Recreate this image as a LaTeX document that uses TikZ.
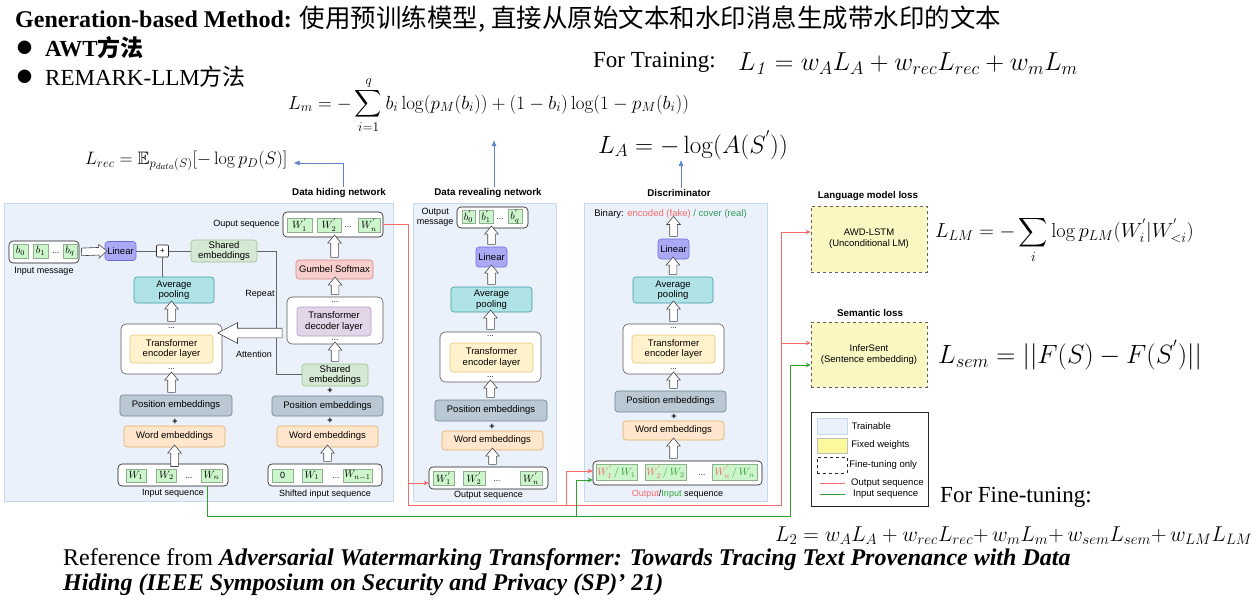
\RequirePackage{fix-cm}
\documentclass[tikz,border=0pt]{standalone}
\usepackage{amssymb}
\usepackage[no-math]{fontspec}
\setmainfont{Liberation Serif}
\setsansfont{Liberation Sans}
\newfontfamily\cjk{Noto Sans CJK SC}
\usetikzlibrary{shapes.arrows,arrows.meta,calc}

\definecolor{panelfill}{HTML}{EAF1FB}
\definecolor{paneldraw}{HTML}{C6D7EE}
\definecolor{linfill}{HTML}{A9A9F5}
\definecolor{lindraw}{HTML}{6E6ED8}
\definecolor{poolfill}{HTML}{B0E3E6}
\definecolor{pooldraw}{HTML}{3E9CA3}
\definecolor{shfill}{HTML}{D5E8D4}
\definecolor{shdraw}{HTML}{9CC38F}
\definecolor{encfill}{HTML}{FFF2CC}
\definecolor{encdraw}{HTML}{E3C778}
\definecolor{decfill}{HTML}{E1D5E7}
\definecolor{decdraw}{HTML}{B49CC4}
\definecolor{posfill}{HTML}{BAC8D3}
\definecolor{posdraw}{HTML}{6F8394}
\definecolor{wordfill}{HTML}{FFE6CC}
\definecolor{worddraw}{HTML}{E0B060}
\definecolor{gumfill}{HTML}{F8CECC}
\definecolor{gumdraw}{HTML}{D98580}
\definecolor{cellfill}{HTML}{CCF5CC}
\definecolor{celldraw}{HTML}{8FB08F}
\definecolor{lossfill}{HTML}{FAF7C3}
\definecolor{outred}{HTML}{F86A6A}
\definecolor{ingreen}{HTML}{2FA32F}
\definecolor{bingreen}{HTML}{2E9A5A}
\definecolor{bluearr}{HTML}{5A82C8}

\tikzset{
  sz/.style 2 args={minimum width=#1pt, minimum height=#2pt},
  blk/.style={rounded corners=3pt, line width=0.6pt, inner sep=0, align=center,
    font=\sffamily\fontsize{9.5}{10.5}\selectfont},
  panel/.style={draw=paneldraw, fill=panelfill, line width=0.7pt, inner sep=0},
  linearbox/.style={blk, fill=linfill, draw=lindraw},
  poolbox/.style={blk, fill=poolfill, draw=pooldraw},
  sharedbox/.style={blk, fill=shfill, draw=shdraw},
  encbox/.style={blk, fill=encfill, draw=encdraw},
  decbox/.style={blk, fill=decfill, draw=decdraw},
  posbox/.style={blk, fill=posfill, draw=posdraw},
  wordbox/.style={blk, fill=wordfill, draw=worddraw},
  gumbelbox/.style={blk, fill=gumfill, draw=gumdraw},
  outerbox/.style={blk, fill=white, draw=gray!70!black, rounded corners=5pt},
  seqbox/.style={blk, fill=white, draw=gray!20!black, rounded corners=4pt},
  cell/.style={draw=celldraw, fill=cellfill, inner sep=0, line width=0.5pt,
    font=\fontsize{10.5}{10.5}\selectfont},
  lossbox/.style={blk, fill=lossfill, draw=gray!75!black, dashed, rounded corners=0pt,
    font=\sffamily\fontsize{9.5}{11}\selectfont},
  nettitle/.style={font=\sffamily\bfseries\fontsize{9.8}{11}\selectfont, inner sep=1pt},
  lbl/.style={font=\sffamily\fontsize{9}{10}\selectfont, inner sep=0, align=center},
  leglbl/.style={lbl, font=\sffamily\fontsize{9.5}{10}\selectfont, anchor=west},
  dotsl/.style={font=\sffamily\fontsize{8}{8}\selectfont, inner sep=0},
  hollow/.style={single arrow, draw=gray!55!black, fill=white, line width=0.6pt,
    inner sep=3.5pt, single arrow head extend=3pt, single arrow tip angle=80},
  bighollow/.style={hollow, inner sep=4.5pt, single arrow head extend=5.5pt,
    single arrow tip angle=55},
  grayline/.style={draw=gray!80!black, line width=0.6pt},
  outseqline/.style={draw=outred, line width=0.7pt},
  inseqline/.style={draw=ingreen, line width=0.7pt},
  seqtip/.style={-{Stealth[length=5pt, width=4.5pt]}},
  blueline/.style={draw=bluearr, line width=0.7pt, -{Latex[length=6pt, width=5pt]}},
  slide/.style={inner sep=0, anchor=west, font=\fontsize{23}{26}\selectfont},
}

% block arrow between two points
\newcommand\hollowarrow[3][hollow]{%
  \path[allow upside down] let \p1=(#2), \p2=(#3), \n1={veclen(\x2-\x1,\y2-\y1)} in
    (#2) -- (#3) node[#1, midway, sloped, allow upside down, minimum height=\n1] {};}

\begin{document}
\begin{tikzpicture}[x=1pt, y=-1pt]
  \useasboundingbox (0,0) rectangle (1257,605);

  % slide text
  \node[slide] (title) at (15,19) {\fontsize{24}{26}\selectfont\textbf{Generation-based Method:}
    {\cjk\fontsize{25.5}{26}\selectfont 使用预训练模型, 直接从原始文本和水印消息生成带水印的文本}};
  \node[slide] (bulA) at (17,48) {\cjk\fontsize{15}{15}\selectfont ●};
  \node[slide] (awt) at (45,48) {\textbf{AWT}{\cjk\bfseries 方法}};
  \node[slide] (bulB) at (17,77) {\cjk\fontsize{15}{15}\selectfont ●};
  \node[slide] (remark) at (45,77) {REMARK-LLM{\cjk 方法}};
  \node[slide] (trainlbl) at (593,62) {For Training:};
  \node[slide, font=\fontsize{26}{28}\selectfont] (lone) at (738,64)
    {$L_{\mathit{1}} = w_A L_A + w_{rec} L_{rec} + w_m L_m$};
  \node[slide, font=\fontsize{19}{21}\selectfont] (lmsg) at (288,105)
    {$\displaystyle L_m = -\sum_{i=1}^{q} b_i \log(p_M(b_i)) + (1-b_i)\log(1-p_M(b_i))$};
  \node[slide, font=\fontsize{25}{27}\selectfont] (ladv) at (598,145)
    {$L_A = -\log(A(S^{'}))$};
  \node[slide, font=\fontsize{18}{20}\selectfont] (lrecf) at (85,161)
    {$L_{rec} = \mathbb{E}_{p_{data}(S)}[-\log p_D(S)]$};
  \node[slide, font=\fontsize{20.3}{22}\selectfont] (llm) at (935,240)
    {$L_{LM} = -\displaystyle\sum_{i} \log p_{LM}(W^{'}_{i}|W^{'}_{<i})$};
  \node[slide, font=\fontsize{26.4}{28}\selectfont] (lsem) at (938,355)
    {$L_{sem} = ||F(S) - F(S^{'})||$};
  \node[slide] (finelbl) at (940,497) {For Fine-tuning:};
  \node[slide, font=\fontsize{21.5}{23}\selectfont] (ltwo) at (775,536)
    {$L_2 = w_A L_A + w_{rec} L_{rec}{+}\, w_m L_m{+}\, w_{sem} L_{sem}{+}\, w_{LM} L_{LM}$};
  \node[slide, font=\fontsize{24}{26}\selectfont] (refA) at (63,560)
    {Reference from \textbf{\textit{Adversarial Watermarking Transformer: Towards Tracing Text Provenance with Data}}};
  \node[slide, font=\fontsize{24}{26}\selectfont] (refB) at (63,585)
    {\textbf{\textit{Hiding (IEEE Symposium on Security and Privacy (SP)’ 21)}}};

  % panels
  \node[panel, sz={389}{298}] (hidpanel) at (198.5,352) {};
  \node[panel, sz={143}{298}] (revpanel) at (484.5,352) {};
  \node[panel, sz={183}{298}] (discpanel) at (675.5,352) {};
  \node[nettitle] (hidtitle) at (339,193) {Data hiding network};
  \node[nettitle] (revtitle) at (488,193) {Data revealing network};
  \node[nettitle] (disctitle) at (679,193) {Discriminator};

  % data hiding network, encoder side
  \node[seqbox, sz={70}{22}] (inmsg) at (44,252) {};
  \node[cell, sz={15}{14}] (b0) at (20.5,251) {$b_0$};
  \node[cell, sz={15}{14}] (b1) at (40.5,251) {$b_1$};
  \node[dotsl] at (56,253) {...};
  \node[cell, sz={14}{14}] (bq) at (70,251) {$b_q$};
  \node[lbl] at ([yshift=-8pt]inmsg.south) {Input message};
  \node[linearbox, sz={31}{19}] (linA) at (120.5,251) {Linear};
  \node[blk, draw=gray!30!black, fill=white, rounded corners=1pt, sz={12}{12},
    font=\sffamily\fontsize{8}{8}\selectfont] (plusA) at (162.5,251) {+};
  \node[sharedbox, sz={66}{22}] (sharedT) at (224,251) {Shared\\embeddings};
  \node[poolbox, sz={80}{26}] (poolA) at (174,290) {Average\\pooling};
  \node[outerbox, sz={101}{50}] (encAout) at (171.5,349) {};
  \node[encbox, sz={83}{28}] (encAin) at (171.5,349) {Transformer\\encoder layer};
  \node[dotsl] at ([yshift=-4pt]encAout.north) {...};
  \node[dotsl] at ([yshift=5pt]encAout.south) {...};
  \node[posbox, sz={112}{21}] (posA) at (176,405.5) {Position embeddings};
  \node[lbl, font=\sffamily\bfseries\fontsize{9}{9}\selectfont] at (175,421.5) {+};
  \node[wordbox, sz={101}{21}] (wordA) at (174.5,436.5) {Word embeddings};
  \node[seqbox, sz={110}{22}] (inseq) at (173,475) {};
  \node[cell, sz={20}{13}] (wA1) at (136,475.5) {$W_1$};
  \node[cell, sz={20}{13}] (wA2) at (166.5,475.5) {$W_2$};
  \node[dotsl] at (189,478) {...};
  \node[cell, sz={21}{13}] (wAn) at (211.5,475.5) {$W_n$};
  \node[lbl] at ([yshift=-7pt]inseq.south) {Input sequence};

  % data hiding network, decoder side
  \node[seqbox, sz={100}{25}] (outseqA) at (333,224.5) {};
  \node[cell, sz={25}{14}] (oA1) at (299.5,225) {$W^{'}_1$};
  \node[cell, sz={24}{14}] (oA2) at (329,225) {$W^{'}_2$};
  \node[dotsl] at (348,227) {...};
  \node[cell, sz={22}{14}] (oAn) at (369,225) {$W^{'}_n$};
  \node[lbl, anchor=east] at ([xshift=-3pt]outseqA.west) {Ouput sequence};
  \node[gumbelbox, sz={77}{19}] (gumbel) at (334.5,269.5) {Gumbel Softmax};
  \node[outerbox, sz={96}{47}] (decout) at (335,320.5) {};
  \node[decbox, sz={74}{29}] (decin) at (334,321.5) {Transformer\\decoder layer};
  \node[dotsl] at ([yshift=-5pt]decout.north) {...};
  \node[dotsl] at ([yshift=4pt]decout.south) {...};
  \node[sharedbox, sz={66}{22}] (sharedB) at (335,375) {Shared\\embeddings};
  \node[lbl, font=\sffamily\bfseries\fontsize{9}{9}\selectfont] at (330,391) {+};
  \node[posbox, sz={111}{20}] (posB) at (327.5,406) {Position embeddings};
  \node[lbl, font=\sffamily\bfseries\fontsize{9}{9}\selectfont] at (330,421) {+};
  \node[wordbox, sz={101}{21}] (wordB) at (327.5,436.5) {Word embeddings};
  \node[seqbox, sz={114}{22}] (shiftseq) at (325,475) {};
  \node[cell, sz={21}{13}, font=\sffamily\fontsize{9}{9}\selectfont] (sA0) at (282.5,475.5) {0};
  \node[cell, sz={20}{13}] (sA1) at (312,475.5) {$W_1$};
  \node[dotsl] at (336,478) {...};
  \node[cell, sz={29}{13}] (sAn) at (357.5,475.5) {$W_{n-1}$};
  \node[lbl] at ([yshift=-8pt]shiftseq.south) {Shifted input sequence};
  \node[lbl] at (260,294) {Repeat};
  \node[lbl] at (254,354) {Attention};

  \draw[grayline] (linA.east) -- (plusA.west);
  \draw[grayline] (plusA.east) -- (sharedT.west);
  \draw[grayline] (plusA.south) -- (plusA.south |- poolA.north);
  \draw[grayline] (sharedT.east) -| (276,374) -- (sharedB.west |- 0,374);
  \hollowarrow{inmsg.east}{linA.west}
  \hollowarrow{wAn.north -| wordA.south}{wordA.south}
  \hollowarrow{posA.north -| encAout.south}{encAout.south}
  \hollowarrow{encAout.north}{encAout.north |- poolA.south}
  \hollowarrow{shiftseq.north -| wordB.south}{wordB.south}
  \hollowarrow{sharedB.north}{sharedB.north |- decout.south}
  \hollowarrow{decout.north}{decout.north |- gumbel.south}
  \hollowarrow{gumbel.north}{gumbel.north |- outseqA.south}
  \hollowarrow[bighollow]{[yshift=-12.5pt]decout.west}{[yshift=16pt]encAout.east}

  % data revealing network
  \node[seqbox, sz={71}{21}] (outmsg) at (492.5,217.5) {};
  \node[cell, sz={13}{13}] (c0) at (468.5,216.5) {$b^{'}_0$};
  \node[cell, sz={14}{13}] (c1) at (486,216.5) {$b^{'}_1$};
  \node[dotsl] at (500,219) {...};
  \node[cell, sz={14}{13}] (cq) at (515,216.5) {$b^{'}_q$};
  \node[lbl, anchor=east] at ([xshift=-3pt]outmsg.west) {Output\\message};
  \node[linearbox, sz={31}{20}] (linB) at (491.5,257) {Linear};
  \node[poolbox, sz={81}{25}] (poolB) at (491.5,299.5) {Average\\pooling};
  \node[outerbox, sz={101}{50}] (encBout) at (490.5,357) {};
  \node[encbox, sz={83}{29}] (encBin) at (491.5,357.5) {Transformer\\encoder layer};
  \node[dotsl] at ([yshift=-4pt]encBout.north) {...};
  \node[dotsl] at ([yshift=5pt]encBout.south) {...};
  \node[posbox, sz={112}{21}] (posC) at (491,410.5) {Position embeddings};
  \node[lbl, font=\sffamily\bfseries\fontsize{9}{9}\selectfont] at (492,426.5) {+};
  \node[wordbox, sz={101}{19}] (wordC) at (492.5,440.5) {Word embeddings};
  \node[seqbox, sz={119}{22}] (outseqB) at (488.5,478) {};
  \node[cell, sz={21}{14}] (oB1) at (443.5,478.5) {$W^{'}_1$};
  \node[cell, sz={22}{14}] (oB2) at (474,478.5) {$W^{'}_2$};
  \node[dotsl] at (497,481) {...};
  \node[cell, sz={22}{14}] (oBn) at (531,478.5) {$W^{'}_n$};
  \node[lbl] at ([yshift=-6pt]outseqB.south) {Output sequence};
  \hollowarrow{outseqB.north -| wordC.south}{wordC.south}
  \hollowarrow{posC.north -| encBout.south}{encBout.south}
  \hollowarrow{encBout.north}{encBout.north |- poolB.south}
  \hollowarrow{poolB.north}{poolB.north |- linB.south}
  \hollowarrow{linB.north}{linB.north |- outmsg.south}

  % discriminator
  \node[lbl, font=\sffamily\fontsize{9.5}{10}\selectfont] (binary) at (670.5,214)
    {Binary: \textcolor{outred}{encoded (fake)} \textcolor{bingreen}{/ cover (real)}};
  \node[linearbox, sz={31}{20}] (linD) at (673.5,249) {Linear};
  \node[poolbox, sz={80}{26}] (poolD) at (673,290) {Average\\pooling};
  \node[outerbox, sz={101}{50}] (encDout) at (673.5,349) {};
  \node[encbox, sz={83}{28}] (encDin) at (673.5,349) {Transformer\\encoder layer};
  \node[dotsl] at ([yshift=-4pt]encDout.north) {...};
  \node[dotsl] at ([yshift=5pt]encDout.south) {...};
  \node[posbox, sz={111}{21}] (posD) at (670.5,401.5) {Position embeddings};
  \node[lbl, font=\sffamily\bfseries\fontsize{9}{9}\selectfont] at (674,416.5) {+};
  \node[wordbox, sz={101}{19}] (wordD) at (673.5,430.5) {Word embeddings};
  \node[seqbox, sz={169}{24}] (discseq) at (677.5,473) {};
  \node[cell, sz={41}{16}] (d1) at (616.5,472) {$\color{outred}W^{'}_1\,\color{ingreen}/\,W_1$};
  \node[cell, sz={41}{16}] (d2) at (665.5,472) {$\color{outred}W^{'}_2\,\color{ingreen}/\,W_2$};
  \node[dotsl] at (702,475) {...};
  \node[cell, sz={45}{16}] (dn) at (734.5,472) {$\color{outred}W^{'}_n\,\color{ingreen}/\,W_n$};
  \node[lbl] at ([yshift=-9pt]discseq.south)
    {\textcolor{outred}{Output}/\textcolor{ingreen}{Input} sequence};
  \hollowarrow{discseq.north -| wordD.south}{wordD.south}
  \hollowarrow{posD.north -| encDout.south}{encDout.south}
  \hollowarrow{encDout.north}{encDout.north |- poolD.south}
  \hollowarrow{poolD.north}{poolD.north |- linD.south}
  \hollowarrow{linD.north}{linD.north |- binary.south}

  % losses with fixed weights
  \node[nettitle] (lmtitle) at (868,196) {Language model loss};
  \node[lossbox, sz={116}{66}] (lmbox) at (869,239) {AWD-LSTM\\(Unconditional LM)};
  \node[nettitle] (semtitle) at (870,313) {Semantic loss};
  \node[lossbox, sz={116}{65}] (sembox) at (869,354.5) {InferSent\\(Sentence embedding)};

  % legend
  \node[draw=gray!30!black, fill=white, line width=0.8pt, sz={117}{94}] (legend) at (869.5,459) {};
  \node[panel, sz={30}{16}] (legtr) at (832,426) {};
  \node[draw=gray!50, fill=lossfill!80!yellow, sz={30}{15}, inner sep=0] (legfx) at (832,445.5) {};
  \node[draw=gray!30!black, dashed, sz={30}{16}, inner sep=0] (legft) at (832,465) {};
  \node[leglbl] at ([xshift=4pt]legtr.east) {Trainable};
  \node[leglbl] at ([xshift=4pt]legfx.east) {Fixed weights};
  \node[leglbl] at ([xshift=2pt]legft.east) {Fine-tuning only};
  \node[leglbl] (legout) at (851,483) {Output sequence};
  \node[leglbl] (legin) at (853,494.5) {Input sequence};
  \draw[outseqline] ([xshift=-31pt]legout.west) -- ([xshift=-6pt]legout.west);
  \draw[inseqline] ([xshift=-33pt]legin.west) -- ([xshift=-8pt]legin.west);

  % output and input sequence connectors
  \coordinate (rleft) at (408,505);
  \coordinate (rdisc) at (566,505);
  \coordinate (rright) at (781,505);
  \coordinate (gdisc) at (576,516);
  \coordinate (gright) at (790,516);
  \draw[outseqline, seqtip] (outseqA.east) -| (rleft) -- (rright) |- ([yshift=7pt]lmbox.west);
  \draw[outseqline, seqtip] ([yshift=-5pt]outseqB.west -| rleft) -- ([yshift=-5pt]outseqB.west);
  \draw[outseqline, seqtip] (rdisc) |- ([yshift=2pt]discseq.west);
  \draw[outseqline, seqtip] ([yshift=11.5pt]sembox.west -| rright) -- ([yshift=11.5pt]sembox.west);
  \draw[inseqline, seqtip] ([xshift=34pt]inseq.south) |- (gright) |- ([yshift=-10.5pt]sembox.west);
  \draw[inseqline, seqtip] (gdisc) |- ([yshift=-7pt]discseq.west);

  % where the losses come from
  \coordinate (hidbend) at (343,163);
  \coordinate (revtip) at (494,140);
  \coordinate (disctip) at (681,160);
  \draw[blueline] (hidtitle.north -| hidbend) -- (hidbend) -- ([xshift=6pt]hidbend -| lrecf.east);
  \draw[blueline] (revtitle.north -| revtip) -- (revtip);
  \draw[blueline] (disctitle.north -| disctip) -- (disctip);
\end{tikzpicture}
\end{document}
